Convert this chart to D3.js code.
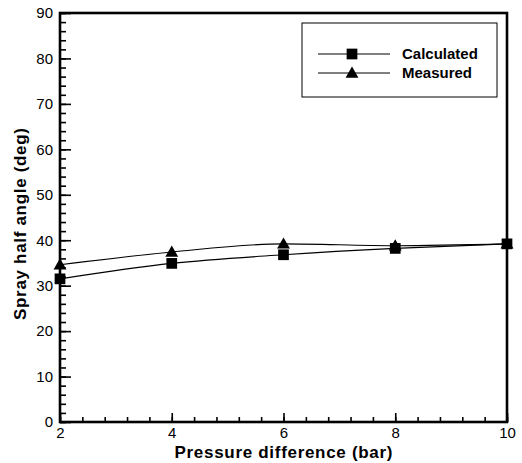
<!DOCTYPE html>
<html>
<head>
<meta charset="utf-8">
<script src="https://cdn.jsdelivr.net/npm/d3@7"></script>
<style>
  body { margin: 0; background: #fff; }
  svg text { font-family: "Liberation Sans", Arial, sans-serif; fill: #000; }
</style>
</head>
<body>
<svg id="chart" width="522" height="463"></svg>
<script>
// chart values
var pressure = [2, 4, 6, 8, 10];
var calculated = [31.5, 34.9, 36.8, 38.2, 39.2];
var measured = [34.6, 37.4, 39.2, 38.8, 39.2];
var xTicks = [2, 4, 6, 8, 10];
var yTicks = [0, 10, 20, 30, 40, 50, 60, 70, 80, 90];
var seriesNames = ["Calculated", "Measured"];

var margin = {top: 13, right: 15, bottom: 41, left: 60},
    width = 522 - margin.left - margin.right,
    height = 463 - margin.top - margin.bottom;

var svg = d3.select("#chart");
var g = svg.append("g")
    .attr("transform", "translate(" + margin.left + "," + margin.top + ")");

var x = d3.scaleLinear().domain([2, 10]).range([0, width]);
var y = d3.scaleLinear().domain([0, 90]).range([height, 0]);

// minor ticks first, then major with labels
g.append("g")
    .attr("transform", "translate(0," + height + ")")
    .call(d3.axisBottom(x).tickValues(d3.range(2, 10.001, 0.4)).tickSize(-5).tickFormat(""));
g.append("g")
    .attr("class", "xaxis")
    .attr("transform", "translate(0," + height + ")")
    .call(d3.axisBottom(x).tickValues(xTicks).tickSize(-9).tickPadding(5).tickFormat(d3.format("d")));

g.append("g")
    .call(d3.axisLeft(y).tickValues(d3.range(0, 90.001, 2)).tickSize(-6).tickFormat(""));
g.append("g")
    .attr("class", "yaxis")
    .call(d3.axisLeft(y).tickValues(yTicks).tickSize(-11).tickPadding(7).tickFormat(d3.format("d")));

g.selectAll(".domain").remove();
g.selectAll(".tick line").attr("stroke", "#000").attr("stroke-width", 1.6);
g.selectAll(".xaxis text, .yaxis text")
    .attr("font-size", 15)
    .attr("font-family", "'Liberation Sans', Arial, sans-serif");
g.selectAll(".xaxis text").attr("dy", "0.75em");
g.selectAll(".yaxis text").attr("x", -7);

// frame
g.append("rect")
    .attr("width", width)
    .attr("height", height)
    .attr("fill", "none")
    .attr("stroke", "#000")
    .attr("stroke-width", 2.6);

var line = d3.line()
    .curve(d3.curveMonotoneX)
    .x(function (d, i) { return x(pressure[i]); })
    .y(function (d) { return y(d); });

var square = d3.symbol().type(d3.symbolSquare).size(115);
var triangle = d3.symbol().type(d3.symbolTriangle).size(72);

[calculated, measured].forEach(function (vals, k) {
    g.append("path")
        .datum(vals)
        .attr("d", line)
        .attr("fill", "none")
        .attr("stroke", "#000")
        .attr("stroke-width", 1.1);
    g.selectAll(".m" + k)
        .data(vals)
        .enter().append("path")
        .attr("transform", function (d, i) {
            return "translate(" + x(pressure[i]) + "," + (y(d) + (k ? 1 : 0)) + ")";
        })
        .attr("d", k ? triangle : square)
        .attr("fill", "#000");
});

// legend
var legend = svg.append("g").attr("transform", "translate(302,23)");
legend.append("rect")
    .attr("width", 195)
    .attr("height", 74)
    .attr("fill", "#fff")
    .attr("stroke", "#000")
    .attr("stroke-width", 1);

seriesNames.forEach(function (name, k) {
    var ly = 31 + k * 19;
    legend.append("line")
        .attr("x1", 16).attr("x2", 88)
        .attr("y1", ly).attr("y2", ly)
        .attr("stroke", "#000").attr("stroke-width", 1.1);
    legend.append("path")
        .attr("transform", "translate(50," + (ly + (k ? 1 : 0)) + ")")
        .attr("d", k ? triangle : square)
        .attr("fill", "#000");
    legend.append("text")
        .attr("x", 100)
        .attr("y", ly + 5)
        .attr("font-size", 15)
        .attr("font-weight", "bold")
        .text(name);
});

// axis titles
svg.append("text")
    .attr("x", margin.left + width / 2)
    .attr("y", 458)
    .attr("text-anchor", "middle")
    .attr("font-size", 17)
    .attr("font-weight", "bold")
    .attr("textLength", 218)
    .attr("lengthAdjust", "spacing")
    .text("Pressure difference (bar)");

svg.append("text")
    .attr("transform", "translate(26,224) rotate(-90)")
    .attr("text-anchor", "middle")
    .attr("font-size", 17)
    .attr("font-weight", "bold")
    .attr("textLength", 192)
    .attr("lengthAdjust", "spacing")
    .text("Spray half angle (deg)");
</script>
</body>
</html>
